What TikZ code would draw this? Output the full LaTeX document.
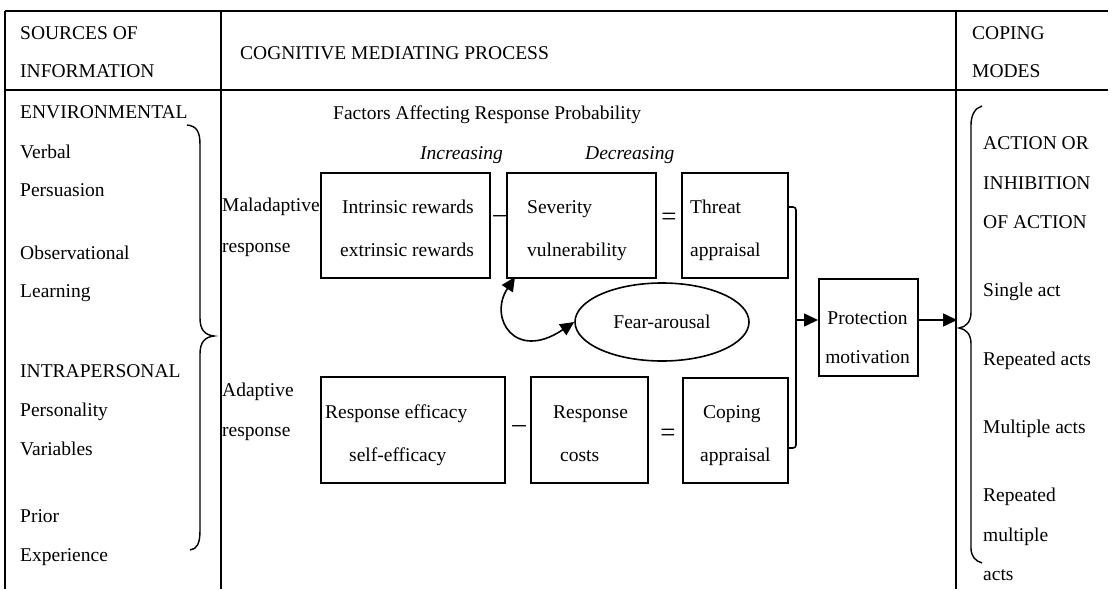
\documentclass[tikz,border=0pt]{standalone}
\usepackage{fontspec}
\setmainfont{Liberation Serif}
\usetikzlibrary{arrows.meta,shapes.geometric}
\begin{document}
\begin{tikzpicture}[x=1pt,y=-1pt,
  txt/.style={anchor=base west,inner sep=0pt,font=\fontsize{19.5}{23}\selectfont},
  ctxt/.style={anchor=base,inner sep=0pt,font=\fontsize{19.5}{23}\selectfont},
  optxt/.style={anchor=base,inner sep=0pt,font=\fontsize{27}{30}\selectfont},
  box/.style={draw,line width=1.6pt,anchor=north west,inner sep=0pt},
  grid/.style={line width=2.2pt},
  conn/.style={line width=1.6pt},
  tri/.style={-{Triangle[length=14pt,width=13pt]}}
]
\useasboundingbox (0,0) rectangle (1113,589);
% table
\coordinate (tl) at (5,11); \coordinate (tr) at (1108,11);
\coordinate (hl) at (5,90); \coordinate (hr) at (1108,90);
\coordinate (c1t) at (221,11); \coordinate (c1b) at (221,589);
\coordinate (c2t) at (956,11); \coordinate (c2b) at (956,589);
\coordinate (c0b) at (5,589);
\draw[grid] (tl) -- (tr);
\draw[grid] (hl) -- (hr);
\draw[grid] (tl) -- (c0b);
\draw[grid] (c1t) -- (c1b);
\draw[grid] (c2t) -- (c2b);
% headers
\node[txt] (h1) at (20,39) {SOURCES OF};
\node[txt] (h2) at (20,77) {INFORMATION};
\node[txt] (h3) at (240,59) {COGNITIVE MEDIATING PROCESS};
\node[txt] (h4) at (972,39) {COPING};
\node[txt] (h5) at (972,77) {MODES};
% left column
\node[txt] (l1) at (20,118) {ENVIRONMENTAL};
\node[txt] (l2) at (20,158) {Verbal};
\node[txt] (l3) at (20,196) {Persuasion};
\node[txt] (l4) at (20,259) {Observational};
\node[txt] (l5) at (20,297) {Learning};
\node[txt] (l6) at (20,377) {INTRAPERSONAL};
\node[txt] (l7) at (20,416) {Personality};
\node[txt] (l8) at (20,455) {Variables};
\node[txt] (l9) at (20,522) {Prior};
\node[txt] (l10) at (20,561) {Experience};
\draw[line width=1.4pt] (187,125) .. controls (197,126) and (200,132) .. (200,145) -- (200,318)
  .. controls (200,330) and (205,335) .. (214,336) .. controls (205,337) and (200,342) .. (200,354)
  -- (200,530) .. controls (200,544) and (197,549) .. (190,550);
% right column
\node[txt] (r1) at (983,149) {ACTION OR};
\node[txt] (r2) at (983,189) {INHIBITION};
\node[txt] (r3) at (983,228) {OF ACTION};
\node[txt] (r4) at (983,296) {Single act};
\node[txt] (r5) at (983,365) {Repeated acts};
\node[txt] (r6) at (983,433) {Multiple acts};
\node[txt] (r7) at (983,501) {Repeated};
\node[txt] (r8) at (983,541) {multiple};
\node[txt] (r9) at (983,580) {acts};
\draw[line width=1.4pt] (982,106) .. controls (975,108) and (971,115) .. (971,125) -- (971,312)
  .. controls (971,322) and (966,327) .. (959,328) .. controls (966,329) and (971,334) .. (971,344)
  -- (971,548) .. controls (971,556) and (975,561) .. (982,563);
% middle
\node[txt] (fa) at (333,119) {Factors Affecting Response Probability};
\node[txt,font=\fontsize{19.5}{23}\selectfont\itshape] (inc) at (420,159) {Increasing};
\node[txt,font=\fontsize{19.5}{23}\selectfont\itshape] (dec) at (585,159) {Decreasing};
\node[txt] (mal1) at (222,211) {Maladaptive};
\node[txt] (mal2) at (222,252) {response};
\node[txt] (ad1) at (222,396) {Adaptive};
\node[txt] (ad2) at (222,436) {response};
% upper boxes
\node[box,minimum width=169pt,minimum height=105pt] (b1) at (320,172) {};
\node[box,minimum width=149pt,minimum height=105pt] (b2) at (506,172) {};
\node[box,minimum width=106pt,minimum height=105pt] (b3) at (681,172) {};
\node[txt] (b1a) at (342,213) {Intrinsic rewards};
\node[txt] (b1b) at (340,256) {extrinsic rewards};
\node[txt] (b2a) at (527,213) {Severity};
\node[txt] (b2b) at (527,256) {vulnerability};
\node[txt] (b3a) at (690,213) {Threat};
\node[txt] (b3b) at (690,256) {appraisal};
\node[optxt] (m1) at (500,222) {\textendash};
\node[optxt] (e1) at (669,225) {=};
% lower boxes
\node[box,minimum width=184pt,minimum height=106pt] (b4) at (320,376) {};
\node[box,minimum width=117pt,minimum height=106pt] (b5) at (530,376) {};
\node[box,minimum width=105pt,minimum height=105pt] (b6) at (682,377) {};
\node[txt] (b4a) at (325,418) {Response efficacy};
\node[txt] (b4b) at (349,461) {self-efficacy};
\node[txt] (b5a) at (553,418) {Response};
\node[txt] (b5b) at (560,461) {costs};
\node[txt] (b6a) at (703,418) {Coping};
\node[txt] (b6b) at (700,461) {appraisal};
\node[optxt] (m2) at (519,432) {\textendash};
\node[optxt] (e2) at (668,441) {=};
% fear arousal
\node[draw,ellipse,line width=1.6pt,minimum width=174pt,minimum height=78pt,inner sep=0pt,
  font=\fontsize{19.5}{23}\selectfont] (fear) at (662,322) {Fear-arousal};
% protection motivation
\node[box,minimum width=99pt,minimum height=97pt] (pm) at (818,278) {};
\node[ctxt] (pm1) at (867.5,324) {Protection};
\node[ctxt] (pm2) at (867.5,363) {motivation};
% connectors
\coordinate (jt) at (796,207);
\coordinate (jb) at (796,448);
\coordinate (jm) at (796,320);
\coordinate (out) at (957,320);
\draw[conn,rounded corners=3pt] (b3.east |- jt) -- (jt) -- (jb) -- (b6.east |- jb);
\draw[conn,tri] (jm) -- (pm.west |- jm);
\draw[conn,tri] (pm.east |- out) -- (out);
\draw[conn,{Triangle[length=14pt,width=13pt]}-{Triangle[length=14pt,width=13pt]}]
  (515,277) .. controls (488,318) and (515,362) .. (fear.west);
\end{tikzpicture}
\end{document}
